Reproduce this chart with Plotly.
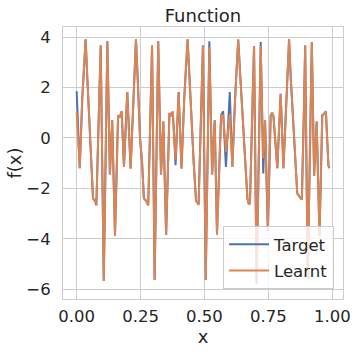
import plotly.graph_objects as go

x_vals = [0.000, 0.012, 0.022, 0.035, 0.042, 0.051, 0.058, 0.064, 0.068, 0.072, 0.077, 0.085, 0.094, 0.106, 0.120,
          0.130, 0.139, 0.150, 0.162, 0.168, 0.176, 0.185, 0.198, 0.211, 0.221, 0.232, 0.239, 0.248, 0.256, 0.263,
          0.268, 0.272, 0.280, 0.287, 0.295, 0.305, 0.319, 0.330, 0.339, 0.350, 0.363, 0.370, 0.376, 0.387, 0.399,
          0.410, 0.421, 0.434, 0.441, 0.451, 0.458, 0.467, 0.472, 0.477, 0.485, 0.494, 0.505, 0.519, 0.530, 0.540,
          0.549, 0.565, 0.573, 0.584, 0.599, 0.609, 0.620, 0.632, 0.641, 0.655, 0.661, 0.668, 0.673, 0.678, 0.686,
          0.694, 0.704, 0.720, 0.730, 0.737, 0.748, 0.759, 0.765, 0.770, 0.785, 0.798, 0.809, 0.820, 0.831, 0.838,
          0.848, 0.855, 0.863, 0.870, 0.881, 0.888, 0.894, 0.904, 0.920, 0.929, 0.939, 0.950, 0.961, 0.968, 0.975,
          0.985, 0.989]

target = [1.85, -1.20, 1.60, 3.91, 2.30, 0.10, -1.00, -2.40, -2.45, -2.50, -2.67, 0.60, 3.67, -5.68, 3.83,
          -1.45, 0.70, -3.88, 0.90, 0.80, 1.06, -1.15, 1.82, -1.21, 1.60, 3.91, 2.30, -0.03, -1.00, -2.40,
          -2.45, -2.50, -2.67, 0.60, 3.67, -5.64, 3.83, -1.45, 0.65, -3.85, 0.99, 0.85, 1.05, -1.08, 1.82,
          -1.21, 1.60, 3.91, 2.30, 0.00, -1.00, -2.50, -2.55, -2.65, 0.60, 3.67, -5.64, 3.83, -1.45, 0.70,
          -3.83, 0.90, 1.06, -1.15, 1.82, -1.15, 1.60, 3.90, 2.30, 0.10, -1.00, -2.40, -2.60, -2.60, 0.60,
          3.65, -5.80, 3.80, -1.41, 0.70, -3.70, 0.90, 1.00, 0.85, -1.20, 1.75, -1.20, 1.60, 3.91, 2.30,
          0.30, -1.00, -2.20, -2.30, -2.45, 0.60, 3.67, -5.60, 3.80, -1.50, 0.65, -3.90, 0.90, 0.95, 1.06,
          -1.10, -1.20]

learnt = [1.00, -1.20, 1.60, 3.91, 2.30, 0.10, -1.00, -2.40, -2.45, -2.50, -2.67, 0.60, 3.67, -5.68, 3.83,
          -1.45, 0.70, -3.88, 0.90, 0.80, 1.06, -1.15, 1.82, -1.21, 1.60, 3.91, 2.30, -0.03, -1.00, -2.40,
          -2.45, -2.50, -2.67, 0.60, 3.67, -5.64, 3.83, -1.45, 0.65, -3.85, 0.99, 0.85, 1.05, -0.85, 1.82,
          -1.21, 1.60, 3.91, 2.30, 0.00, -1.00, -2.50, -2.55, -2.65, 0.60, 3.67, -5.64, 3.60, -1.45, 0.70,
          -3.83, 0.90, 0.90, -0.55, 0.95, -1.15, 1.60, 3.90, 2.30, 0.10, -1.00, -2.40, -2.60, -2.60, 0.60,
          3.65, -5.80, 3.65, -0.80, 0.70, -3.60, 0.90, 1.00, 0.85, -1.20, 1.75, -1.20, 1.60, 3.91, 2.30,
          0.30, -1.00, -2.20, -2.30, -2.45, 0.60, 3.67, -5.60, 3.80, -1.50, 0.65, -3.90, 0.90, 0.95, 1.06,
          -1.10, -1.20]

x_ticks = [0.0, 0.25, 0.5, 0.75, 1.0]
x_tick_labels = ["0.00", "0.25", "0.50", "0.75", "1.00"]
y_ticks = [-6, -4, -2, 0, 2, 4]

FONT = "DejaVu Sans"
TXT = "#262626"
GRID = "#cccccc"

fig = go.Figure()
fig.add_trace(go.Scatter(x=x_vals, y=target, mode="lines", name="Target", legendgroup="t",
                         line=dict(color="#4C72B0", width=2)))
fig.add_trace(go.Scatter(x=x_vals, y=learnt, mode="lines", name="Learnt", legendgroup="l",
                         line=dict(color="#DD8452", width=2)))

fig.update_layout(
    width=356, height=355,
    margin=dict(l=63, r=13, t=27, b=56, autoexpand=False),
    paper_bgcolor="white", plot_bgcolor="white",
    font=dict(family=FONT, size=16.5, color=TXT),
    title=dict(text="Function", x=0.5, xref="paper", xanchor="center",
               y=1, yref="paper", yanchor="bottom", pad=dict(b=5),
               font=dict(size=18, color=TXT, family=FONT)),
    showlegend=True,
    legend=dict(x=0.968, xanchor="right", y=0.037, yanchor="bottom",
                bgcolor="rgba(255,255,255,0.8)", bordercolor=GRID, borderwidth=1,
                traceorder="grouped", tracegroupgap=2, itemwidth=40,
                font=dict(size=16.5, color=TXT, family=FONT)),
)
fig.update_xaxes(range=[-0.0535, 1.042], tickvals=x_ticks, ticktext=x_tick_labels,
                 automargin=False,
                 showgrid=True, gridcolor=GRID, gridwidth=1, zeroline=False,
                 showline=True, linecolor=GRID, linewidth=1, mirror=True,
                 ticks="outside", ticklen=2, tickcolor="rgba(0,0,0,0)",
                 title=dict(text="x", font=dict(size=18, color=TXT, family=FONT), standoff=5),
                 tickfont=dict(size=16.5, color=TXT, family=FONT))
fig.update_yaxes(range=[-6.39, 4.40], tickvals=y_ticks,
                 automargin=False,
                 showgrid=True, gridcolor=GRID, gridwidth=1, zeroline=False,
                 showline=True, linecolor=GRID, linewidth=1, mirror=True,
                 ticks="outside", ticklen=8, tickcolor="rgba(0,0,0,0)",
                 title=dict(text="f(x)", font=dict(size=18, color=TXT, family=FONT), standoff=0),
                 tickfont=dict(size=16.5, color=TXT, family=FONT))

fig.write_html("out.html", config={"displayModeBar": False},
               post_script="document.body.style.margin='0';document.body.style.overflow='hidden';")
